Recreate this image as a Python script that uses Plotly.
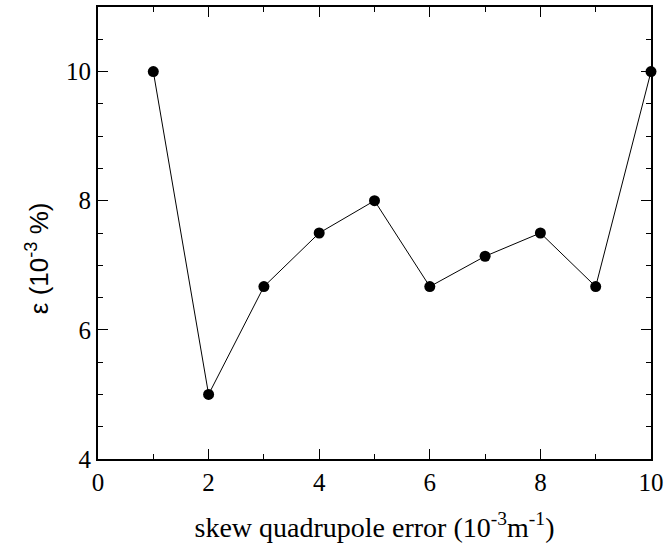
import plotly.graph_objects as go

x_vals = [1, 2, 3, 4, 5, 6, 7, 8, 9, 10]
y_vals = [10, 5, 6.67, 7.5, 8, 6.67, 7.14, 7.5, 6.67, 10]
x_ticks = [0, 2, 4, 6, 8, 10]
y_ticks = [4, 6, 8, 10]

fig = go.Figure()
fig.add_trace(go.Scatter(
    x=x_vals, y=y_vals, mode="lines+markers",
    line=dict(color="black", width=1),
    marker=dict(color="black", size=11),
    cliponaxis=False, showlegend=False,
))

serif = "Liberation Serif, Times New Roman, serif"
sans = "Liberation Sans, Arial, sans-serif"

fig.update_layout(
    width=671, height=544,
    margin=dict(l=98, r=20, t=5, b=85),
    plot_bgcolor="white", paper_bgcolor="white",
    xaxis=dict(
        range=[0, 10], tickvals=x_ticks, ticks="inside", ticklen=10, tickwidth=1,
        tickcolor="black", showline=True, linecolor="black", linewidth=2, mirror="ticks",
        showgrid=False, zeroline=False,
        minor=dict(dtick=1, ticks="inside", ticklen=5, tickcolor="black", showgrid=False),
        tickfont=dict(family=serif, size=25, color="black"),
        title=dict(text="skew quadrupole error (10<sup>-3</sup>m<sup>-1</sup>)",
                   font=dict(family=serif, size=28, color="black"), standoff=22),
    ),
    yaxis=dict(
        range=[4, 11], tickvals=y_ticks, ticks="inside", ticklen=10, tickwidth=1,
        tickcolor="black", showline=True, linecolor="black", linewidth=2, mirror="ticks",
        showgrid=False, zeroline=False,
        minor=dict(dtick=0.5, ticks="inside", ticklen=5, tickcolor="black", showgrid=False),
        tickfont=dict(family=serif, size=25, color="black"),
    ),
    annotations=[dict(
        text="ε (10<sup>-3</sup> %)", textangle=-90, showarrow=False,
        xref="paper", yref="paper", x=-0.110, y=0.5, xanchor="center", yanchor="middle",
        yshift=-25,
        font=dict(family=sans, size=26, color="black"),
    )],
)

fig.write_html("out.html", config={"displayModeBar": False},
               post_script="document.body.style.margin='0';")
